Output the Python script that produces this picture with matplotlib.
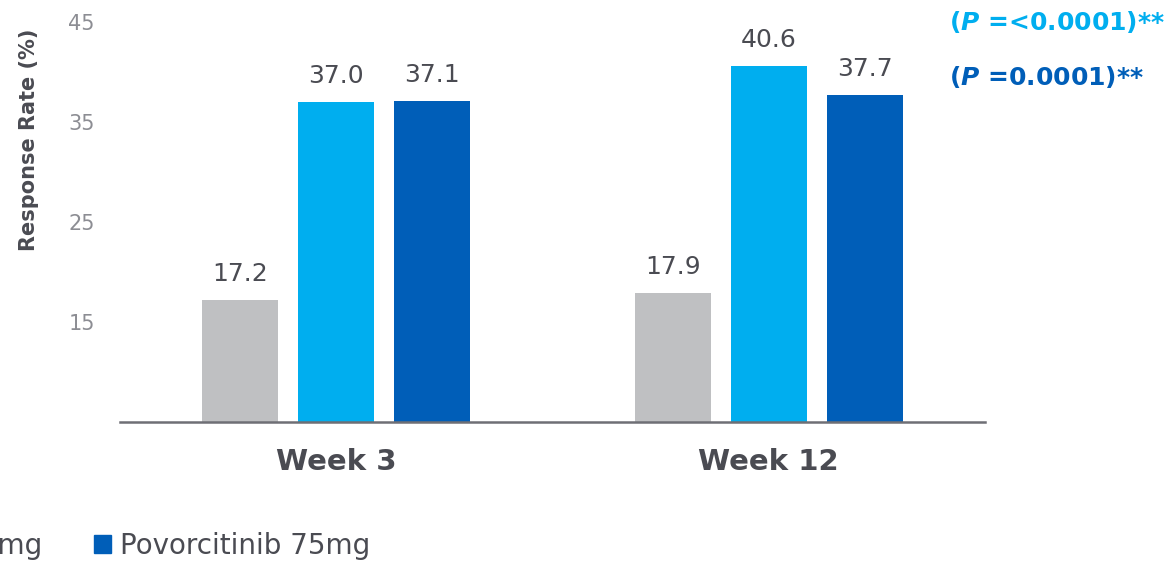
import matplotlib
matplotlib.use("Agg")
import matplotlib.pyplot as plt
import numpy as np
from matplotlib.patches import Patch

# data
weeks = ["Week 3", "Week 12"]
series_names = ["Placebo", "Povorcitinib 45mg", "Povorcitinib 75mg"]
placebo = [17.2, 17.9]
povo_45 = [37.0, 40.6]
povo_75 = [37.1, 37.7]
y_ticks = [15, 25, 35, 45]
p_texts = [r"($\mathit{P}$ =<0.0001)**", r"($\mathit{P}$ =0.0001)**"]

colors = ["#BFC0C2", "#00AEEF", "#005EB8"]
text_dark = "#4A4B52"
tick_gray = "#8C8D93"

plt.rcParams["font.family"] = "DejaVu Sans"
plt.rcParams["mathtext.fontset"] = "custom"
plt.rcParams["mathtext.it"] = "DejaVu Sans:italic:bold"

fig = plt.figure(figsize=(11.73, 5.62), dpi=100)
ax = fig.add_axes([0.1023, 0.249, 0.7374, 0.712])

x = np.arange(len(weeks))
width = 0.176
offset = 0.222
for i, vals in enumerate([placebo, povo_45, povo_75]):
    bars = ax.bar(x + (i - 1) * offset, vals, width=width, bottom=0,
                  color=colors[i], zorder=2)
    for b, v in zip(bars, vals):
        ax.text(b.get_x() + b.get_width() / 2, v + 1.4, f"{v:.1f}",
                ha="center", va="bottom", fontsize=18, color=text_dark)

ax.set_xlim(-0.5, 1.5)
ax.set_ylim(5, 45)
ax.set_yticks(y_ticks)
ax.set_yticklabels([str(t) for t in y_ticks], fontsize=15, color=tick_gray)
ax.set_xticks(x)
ax.set_xticklabels(weeks, fontsize=21, fontweight="bold", color=text_dark)
ax.tick_params(axis="y", length=0, pad=18)
ax.tick_params(axis="x", length=0, pad=19)

for s in ["top", "right", "left"]:
    ax.spines[s].set_visible(False)
ax.spines["bottom"].set_color("#6E6F75")
ax.spines["bottom"].set_linewidth(1.8)

ax.set_ylabel("Response Rate (%)", fontsize=15, fontweight="bold", color=text_dark)
ax.yaxis.set_label_coords(-0.094, 0.705)

# p-values
fig.text(949 / 1173, 1 - 22 / 562, p_texts[0], fontsize=18, fontweight="bold",
         color=colors[1], ha="left", va="center")
fig.text(949 / 1173, 1 - 77 / 562, p_texts[1], fontsize=18, fontweight="bold",
         color=colors[2], ha="left", va="center")

# legend (partly cut off on the left like the source)
handles = [Patch(color=c) for c in colors]
fig.legend(handles, series_names, loc="center right", ncol=3,
           bbox_to_anchor=(0.316, 1 - 546 / 562), frameon=False,
           fontsize=20, labelcolor=text_dark, handlelength=0.6,
           handleheight=0.6, handletextpad=0.35, columnspacing=1.85,
           borderpad=0, borderaxespad=0)

fig.savefig("out.png", dpi=100)
